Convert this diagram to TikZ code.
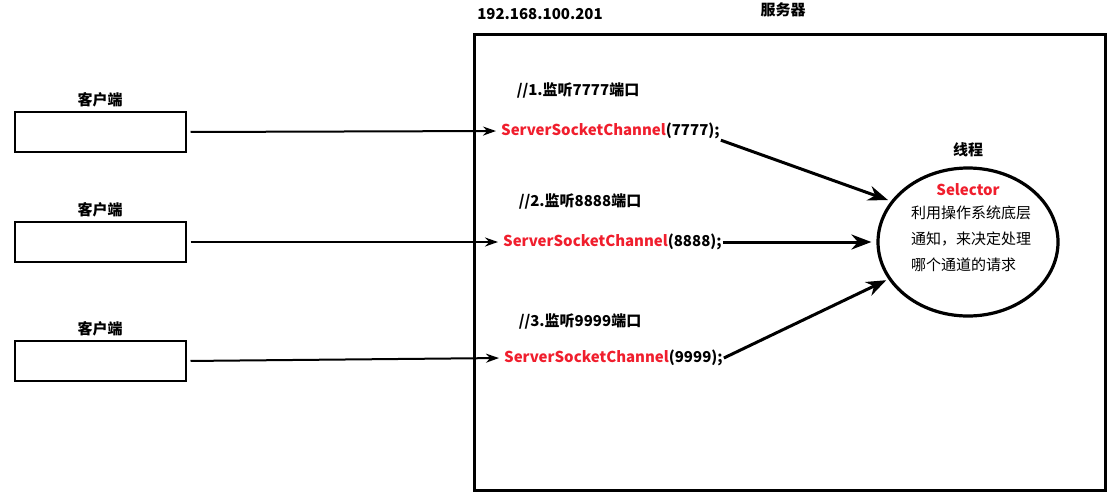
\documentclass[tikz,border=0pt]{standalone}
\usepackage{fontspec}
\setmainfont{Noto Sans CJK SC}
\usetikzlibrary{arrows.meta,shapes.geometric,positioning}
\definecolor{codered}{RGB}{240,30,45}

\begin{document}
\begin{tikzpicture}[x=1pt, y=-1pt, >={Stealth[length=13pt,width=9pt]},
    every node/.style={font=\fontsize{15}{18}\selectfont\bfseries, inner sep=1pt},
    client/.style={draw, line width=2pt, minimum width=171pt, minimum height=40pt},
    chan/.style={anchor=west},
    call/.style={->, line width=2pt, shorten <=4pt, shorten >=4pt},
    notify/.style={-{Stealth[length=20pt,width=15pt]}, line width=3pt}]
    \useasboundingbox (0,0) rectangle (1118,498);

    % Serveur
    \draw[line width=3pt] (474,34) rectangle (1105,490);
    \node (ip) at (540,14) {192.168.100.201};
    \node (srv) at (783,10) {服务器};

    % Clients
    \node[client] (client1) at (100,132) {};
    \node[client] (client2) at (100,242) {};
    \node[client] (client3) at (100,361) {};
    \foreach \i in {1,2,3}
        \node[above=3pt of client\i] (clab\i) {客户端};

    % Canaux
    \node (com1) at (578,90) {//1.监听7777端口};
    \node[chan] (chan1) at (500,131) {\textcolor{codered}{ServerSocketChannel}(7777);};
    \node (com2) at (580,201) {//2.监听8888端口};
    \node[chan] (chan2) at (502,242) {\textcolor{codered}{ServerSocketChannel}(8888);};
    \node (com3) at (580,321) {//3.监听9999端口};
    \node[chan] (chan3) at (503,358) {\textcolor{codered}{ServerSocketChannel}(9999);};

    % Selector
    \node[draw, ellipse, line width=3.2pt, minimum width=180pt, minimum height=148pt] (sel) at (968,242) {};
    \node (thread) at (968,150) {线程};
    \node[text=codered] (seltitle) at (968,190) {Selector};
    \node[anchor=north west, align=left, font=\fontsize{15}{26}\selectfont] (seltext) at (910,205)
        {利用操作系统底层\\通知，来决定处理\\哪个通道的请求};

    % Fleches
    \foreach \i in {1,2,3}
        \draw[call] (client\i.east) -- (chan\i.west);
    \draw[notify] (chan1.south east) -- ([shift={(-3,-1)}]sel.152);
    \draw[notify] (chan2.east) -- ([xshift=-5pt]sel.west);
    \draw[notify] (chan3.east) -- ([shift={(-2,1)}]sel.205);
\end{tikzpicture}
\end{document}
